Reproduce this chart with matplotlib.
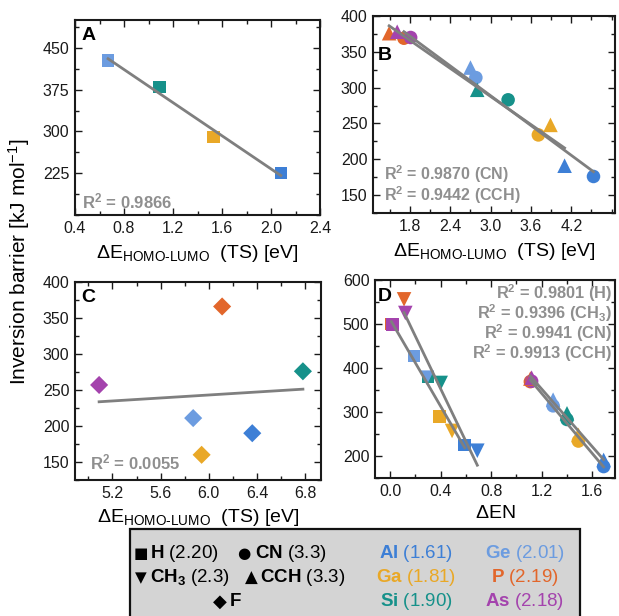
import numpy as np
import matplotlib
matplotlib.use('Agg')
import matplotlib.pyplot as plt
from matplotlib.ticker import MultipleLocator
from matplotlib.patches import Rectangle

plt.rcParams['font.family'] = ['Liberation Sans', 'DejaVu Sans']
plt.rcParams['mathtext.fontset'] = 'custom'
plt.rcParams['mathtext.rm'] = 'Liberation Sans'
plt.rcParams['mathtext.it'] = 'Liberation Sans:italic'
plt.rcParams['mathtext.bf'] = 'Liberation Sans:bold'

W, H = 619, 616

# element colours
colors = {'Al': '#3d7fd6', 'Ga': '#e9a827', 'Si': '#16918a',
          'Ge': '#6c9ce0', 'P': '#e2662b', 'As': '#a443ad'}
elem6 = ['Al', 'Ga', 'Si', 'Ge', 'P', 'As']

# A: H ligand, HOMO-LUMO gap vs barrier
a_elem = ['Ge', 'Si', 'Ga', 'Al']
a_gap = [0.67, 1.09, 1.53, 2.08]
a_barrier = [427, 380, 290, 225]

# B: CN and CCH ligands
b_cn_gap = [4.53, 3.71, 3.26, 2.78, 1.71, 1.81]
b_cn_barrier = [176, 234, 283, 314, 369, 370]
b_cch_gap = [4.10, 3.89, 2.80, 2.70, 1.49, 1.61]
b_cch_barrier = [191, 248, 297, 328, 376, 378]

# C: F ligand
c_f_gap = [6.36, 5.94, 6.78, 5.87, 6.11, 5.09]
c_f_barrier = [190, 160, 276, 211, 366, 257]

# D: delta EN vs barrier
d_h_den = [0.59, 0.39, 0.30, 0.19, 0.01, 0.02]
d_h_barrier = [225, 290, 380, 427, 500, 499]
d_ch3_den = [0.69, 0.49, 0.40, 0.29, 0.11, 0.12]
d_ch3_barrier = [212, 257, 366, 378, 556, 525]
d_cn_den = [1.69, 1.49, 1.40, 1.29, 1.11, 1.12]
d_cch_den = [1.69, 1.49, 1.40, 1.29, 1.11, 1.12]

r2_a = ['0.9866']
r2_b = ['0.9870 (CN)', '0.9442 (CCH)']
r2_c = ['0.0055']
r2_d = ['0.9801 (H)', '0.9396 (CH$_\\mathbf{3}$)', '0.9941 (CN)', '0.9913 (CCH)']

GRAY = '#8f8f8f'
fig = plt.figure(figsize=(W / 100, H / 100), dpi=100)


def make_ax(l, t, r, b):
    ax = fig.add_axes([l / W, 1 - b / H, (r - l) / W, (b - t) / H])
    for s in ax.spines.values():
        s.set_linewidth(1.5)
        s.set_color('#1a1a1a')
    ax.tick_params(which='both', direction='in', top=True, right=True,
                   labelsize=11.5, width=1.0, colors='#1a1a1a')
    ax.tick_params(which='major', length=5, pad=4)
    ax.tick_params(which='minor', length=3)
    return ax


def pts(ax, x, y, elems, marker, s):
    for xi, yi, e in zip(x, y, elems):
        ax.scatter(xi, yi, marker=marker, s=s, color=colors[e],
                   edgecolors='none', zorder=3)


def fit_line(ax, x, y):
    x = np.asarray(x, float)
    y = np.asarray(y, float)
    k, b = np.polyfit(x, y, 1)
    xs = np.array([x.min(), x.max()])
    ax.plot(xs, k * xs + b, color='#7f7f7f', lw=2, zorder=4)


def r2_text(ax, x, y, vals, ha='left', va='center', fs=12, ls=1.0):
    s = '\n'.join(r'R$^\mathbf{2}$ = ' + v for v in vals)
    ax.text(x, y, s, transform=ax.transAxes, color=GRAY, fontsize=fs,
            fontweight='bold', ha=ha, va=va, multialignment=ha, linespacing=ls)


xlab = r'$\Delta$E$_{\mathregular{HOMO\text{-}LUMO}}$  (TS) [eV]'
SQ, CI, TR, TD, DI = 80, 95, 110, 110, 85

# ---- A
ax = make_ax(75, 20, 320, 215)
fit_line(ax, a_gap, a_barrier)
pts(ax, a_gap, a_barrier, a_elem, 's', SQ)
ax.set_xlim(0.4, 2.4)
ax.set_ylim(150, 500)
ax.set_xticks([0.4, 0.8, 1.2, 1.6, 2.0, 2.4])
ax.set_yticks([225, 300, 375, 450])
ax.xaxis.set_minor_locator(MultipleLocator(0.2))
ax.yaxis.set_minor_locator(MultipleLocator(37.5))
ax.set_xlabel(xlab, fontsize=14, labelpad=5)
ax.text(0.025, 0.965, 'A', transform=ax.transAxes, fontsize=14,
        fontweight='bold', va='top', ha='left')
r2_text(ax, 0.03, 0.07, r2_a)

# ---- B
ax = make_ax(373, 16, 615, 213)
fit_line(ax, b_cn_gap, b_cn_barrier)
fit_line(ax, b_cch_gap, b_cch_barrier)
pts(ax, b_cn_gap, b_cn_barrier, elem6, 'o', CI)
pts(ax, b_cch_gap, b_cch_barrier, elem6, '^', TR)
ax.set_xlim(1.25, 4.85)
ax.set_ylim(125, 400)
ax.set_xticks([1.8, 2.4, 3.0, 3.6, 4.2])
ax.set_yticks([150, 200, 250, 300, 350, 400])
ax.xaxis.set_minor_locator(MultipleLocator(0.3))
ax.yaxis.set_minor_locator(MultipleLocator(25))
ax.set_xlabel(xlab, fontsize=14, labelpad=5)
ax.text(0.02, 0.80, 'B', transform=ax.transAxes, fontsize=14,
        fontweight='bold', va='center', ha='left')
r2_text(ax, 0.045, 0.035, r2_b, va='bottom', fs=11.5, ls=0.95)

# ---- C
ax = make_ax(75, 282, 321, 480)
fit_line(ax, c_f_gap, c_f_barrier)
pts(ax, c_f_gap, c_f_barrier, elem6, 'D', DI)
ax.set_xlim(4.89, 6.93)
ax.set_ylim(125, 400)
ax.set_xticks([5.2, 5.6, 6.0, 6.4, 6.8])
ax.set_yticks([150, 200, 250, 300, 350, 400])
ax.xaxis.set_minor_locator(MultipleLocator(0.2))
ax.yaxis.set_minor_locator(MultipleLocator(25))
ax.set_xlabel(xlab, fontsize=14, labelpad=5)
ax.text(0.025, 0.965, 'C', transform=ax.transAxes, fontsize=14,
        fontweight='bold', va='top', ha='left')
r2_text(ax, 0.06, 0.09, r2_c)

# ---- D
ax = make_ax(375, 280, 615, 478)
fit_line(ax, d_h_den, d_h_barrier)
fit_line(ax, d_ch3_den, d_ch3_barrier)
fit_line(ax, d_cn_den, b_cn_barrier)
fit_line(ax, d_cch_den, b_cch_barrier)
pts(ax, d_h_den, d_h_barrier, elem6, 's', SQ)
pts(ax, d_ch3_den, d_ch3_barrier, elem6, 'v', TD)
pts(ax, d_cn_den, b_cn_barrier, elem6, 'o', CI)
pts(ax, d_cch_den, b_cch_barrier, elem6, '^', TR)
ax.set_xlim(-0.12, 1.78)
ax.set_ylim(150, 600)
ax.set_xticks([0.0, 0.4, 0.8, 1.2, 1.6])
ax.set_yticks([200, 300, 400, 500, 600])
ax.xaxis.set_minor_locator(MultipleLocator(0.2))
ax.yaxis.set_minor_locator(MultipleLocator(50))
ax.set_xlabel(r'$\Delta$EN', fontsize=14, labelpad=5)
ax.text(0.012, 0.96, 'D', transform=ax.transAxes, fontsize=14,
        fontweight='bold', va='top', ha='left')
r2_text(ax, 0.986, 0.99, r2_d, ha='right', va='top', fs=11.8, ls=0.9)

# y label shared
fig.text(19 / W, 1 - 262 / H, 'Inversion barrier [kJ mol$^{-1}$]',
         rotation=90, ha='center', va='center', fontsize=15)

# ---- legend box
fig.add_artist(Rectangle((130 / W, -0.05), (580 - 130) / W, (1 - 529 / H) + 0.05,
                         transform=fig.transFigure, facecolor='#d4d4d4',
                         edgecolor='#111111', lw=1.6))
LF = 13.5
rows = [553, 578, 602]


def ltext(x, y, s, color='black', ha='left'):
    fig.text(x / W, 1 - y / H, s, color=color, ha=ha, va='center', fontsize=LF)


def glyph(x, y, g, fs=11):
    fig.text(x / W, 1 - y / H, g, ha='center', va='center', fontsize=fs,
             family='DejaVu Sans', color='black')


glyph(141, rows[0], '■', 11)
ltext(150, rows[0], r'$\mathbf{H}$ (2.20)')
glyph(141, rows[1], '▼', 11)
ltext(150, rows[1], r'$\mathbf{CH_3}$ (2.3)')
glyph(220, rows[2], '◆', 13)
ltext(229, rows[2], r'$\mathbf{F}$')
glyph(244, rows[0], '●', 11)
ltext(255, rows[0], r'$\mathbf{CN}$ (3.3)')
glyph(251, rows[1], '▲', 12)
ltext(260, rows[1], r'$\mathbf{CCH}$ (3.3)')
ltext(416, rows[0], r'$\mathbf{Al}$ (1.61)', colors['Al'], 'center')
ltext(416, rows[1], r'$\mathbf{Ga}$ (1.81)', colors['Ga'], 'center')
ltext(416, rows[2], r'$\mathbf{Si}$ (1.90)', colors['Si'], 'center')
ltext(525, rows[0], r'$\mathbf{Ge}$ (2.01)', colors['Ge'], 'center')
ltext(525, rows[1], r'$\mathbf{P}$ (2.19)', colors['P'], 'center')
ltext(525, rows[2], r'$\mathbf{As}$ (2.18)', colors['As'], 'center')

fig.savefig('out.png', dpi=100)
